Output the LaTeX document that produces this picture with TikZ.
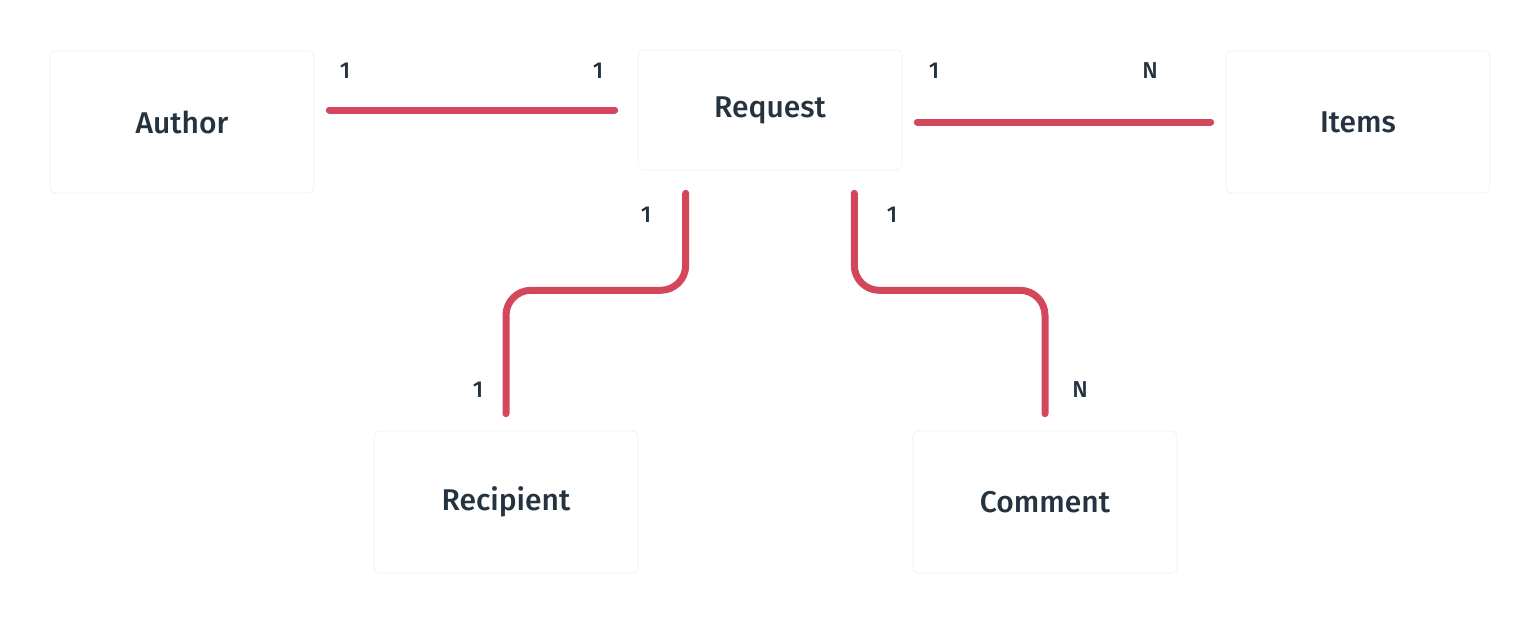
\documentclass[tikz,border=0pt]{standalone}
\usepackage{fontspec}
\setmainfont{Fira Sans Medium}
\definecolor{txt}{HTML}{25323F}
\definecolor{rel}{HTML}{D4465C}
\definecolor{edge}{HTML}{EEEEEE}
\tikzset{
  entity/.style={draw=edge, line width=0.6pt, fill=white, rounded corners=5pt,
    minimum width=264pt, minimum height=142pt, text=txt, font=\fontsize{30}{34}\selectfont},
  conn/.style={draw=rel, line width=7pt, line cap=round},
  card/.style={text=txt, font=\fontsize{23}{27}\selectfont, inner sep=0pt}
}
\begin{document}
\begin{tikzpicture}[x=1pt,y=-1pt]
\useasboundingbox[fill=white] (0,0) rectangle (1540,624);
\node[entity] (author) at (182,122) {Author};
\node[entity, minimum height=120pt] (request) at (770,110) {Request};
\node[entity] (items) at (1358,122) {Items};
\node[entity] (recipient) at (506,502) {Recipient};
\node[entity] (comment) at (1045,502) {Comment};

\draw[conn] ([xshift=15pt]author.east |- request.center) -- ([xshift=-23pt]request.west);
\draw[conn] ([xshift=15pt]request.east |- items.center) -- ([xshift=-15pt]items.west);
\draw[conn, rounded corners=25pt] ([xshift=48pt,yshift=-23pt]request.south west) -- ++(0,97) -| ([yshift=17pt]recipient.north);
\draw[conn, rounded corners=25pt] ([xshift=-48pt,yshift=-23pt]request.south east) -- ++(0,97) -| ([yshift=17pt]comment.north);

\node[card] (c1) at (345,71) {1};
\node[card] (c2) at (598,71) {1};
\node[card] (c3) at (934,71) {1};
\node[card] (c4) at (1150,71) {N};
\node[card] (c5) at (646,215) {1};
\node[card] (c6) at (892,215) {1};
\node[card] (c7) at (478,390) {1};
\node[card] (c8) at (1080,390) {N};
\end{tikzpicture}
\end{document}
